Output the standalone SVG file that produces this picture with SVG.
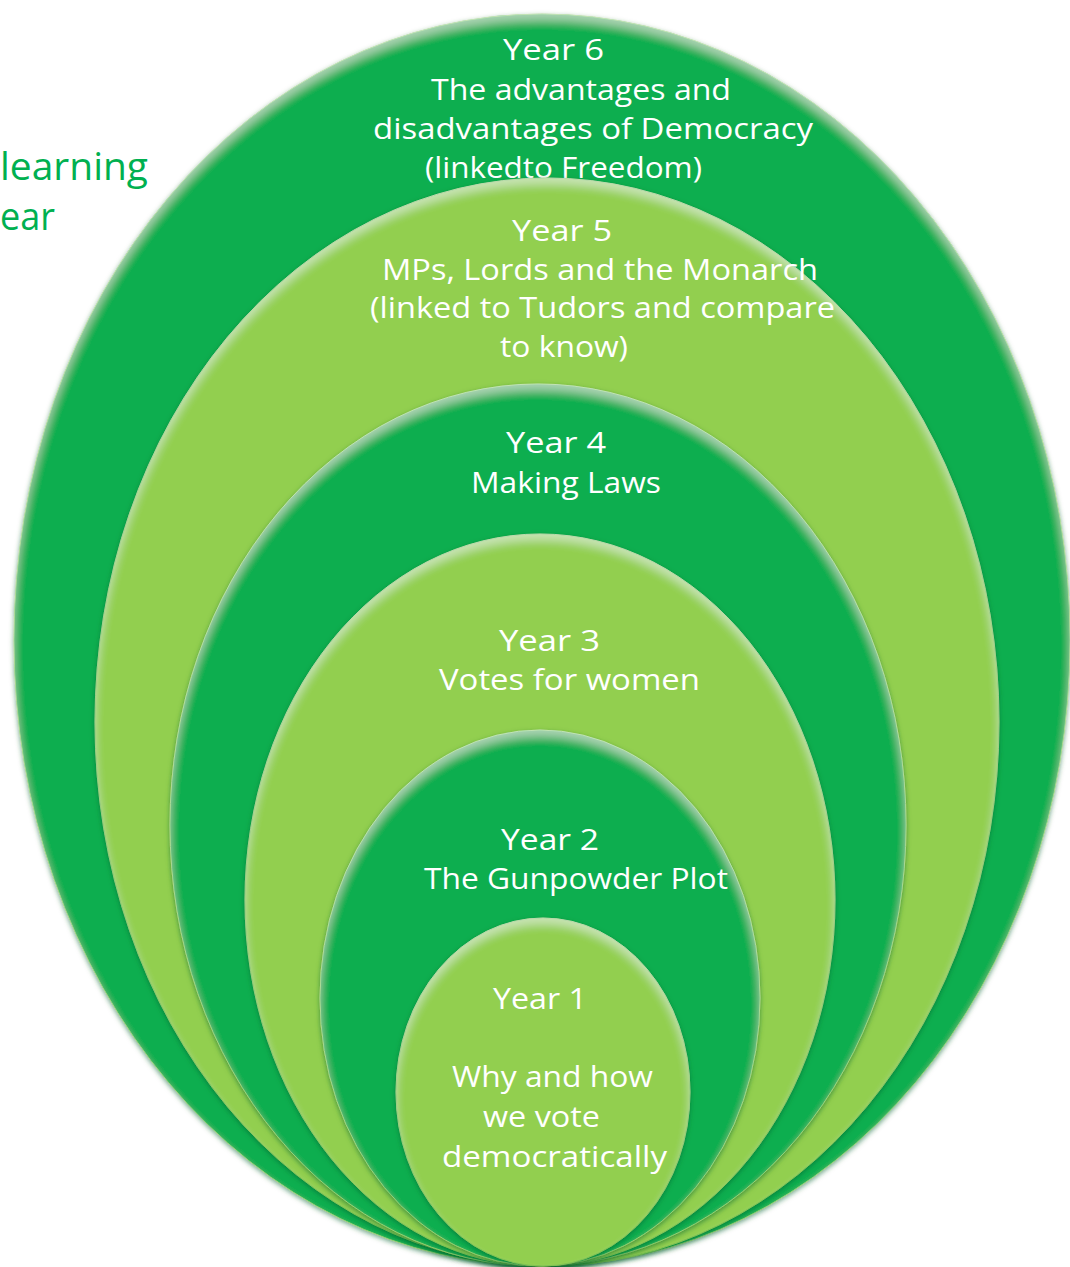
<svg xmlns="http://www.w3.org/2000/svg" width="1070" height="1267" viewBox="0 0 1070 1267">
<defs>
<filter id="bevel" x="-5%" y="-5%" width="110%" height="110%">
<feGaussianBlur in="SourceAlpha" stdDeviation="2.5" result="sb"/>
<feOffset in="sb" dx="0" dy="2" result="so"/>
<feFlood flood-color="#05602b" flood-opacity="0.55"/>
<feComposite in2="so" operator="in" result="shadow"/>
<feGaussianBlur in="SourceAlpha" stdDeviation="5" result="b2"/>
<feOffset in="b2" dx="0" dy="7" result="o2"/>
<feComposite in="SourceAlpha" in2="o2" operator="out" result="rim"/>
<feFlood flood-color="#ffffff" flood-opacity="0.4"/>
<feComposite in2="rim" operator="in" result="hl"/>
<feMerge><feMergeNode in="shadow"/><feMergeNode in="SourceGraphic"/><feMergeNode in="hl"/></feMerge>
</filter>
</defs>
<style>
.dark{fill:#07AE4F;stroke:#8fd06a;stroke-width:1;filter:url(#bevel)}
.light{fill:#92CF50;stroke:#7cc24a;stroke-width:1;filter:url(#bevel)}
.lbl{fill:#ffffff;font-family:"Comic Sans MS","Open Sans","DejaVu Sans",sans-serif;font-size:30px}
.side{fill:#00B050;font-family:"Comic Sans MS","Open Sans","DejaVu Sans",sans-serif;font-size:38px}
</style>
<rect width="1070" height="1267" fill="#ffffff"/>
<g id="title">
<text class="side" x="0" y="180" textLength="148" lengthAdjust="spacingAndGlyphs">learning</text>
<text class="side" x="0" y="230" textLength="55" lengthAdjust="spacingAndGlyphs">ear</text>
</g>
<g id="year6">
<ellipse class="dark" cx="542" cy="640" rx="528" ry="626"/>
<text class="lbl" x="503" y="60" textLength="101" lengthAdjust="spacingAndGlyphs">Year 6</text>
<text class="lbl" x="431" y="100" textLength="300" lengthAdjust="spacingAndGlyphs">The advantages and</text>
<text class="lbl" x="373" y="139" textLength="440" lengthAdjust="spacingAndGlyphs">disadvantages of Democracy</text>
<text class="lbl" x="425" y="178" textLength="277" lengthAdjust="spacingAndGlyphs">(linkedto Freedom)</text>
</g>
<g id="year5">
<ellipse class="light" cx="547" cy="722" rx="452" ry="544"/>
<text class="lbl" x="512" y="241" textLength="100" lengthAdjust="spacingAndGlyphs">Year 5</text>
<text class="lbl" x="382" y="280" textLength="436" lengthAdjust="spacingAndGlyphs">MPs, Lords and the Monarch</text>
<text class="lbl" x="370" y="318" textLength="465" lengthAdjust="spacingAndGlyphs">(linked to Tudors and compare</text>
<text class="lbl" x="500" y="357" textLength="128" lengthAdjust="spacingAndGlyphs">to know)</text>
</g>
<g id="year4">
<ellipse class="dark" cx="538" cy="825" rx="368" ry="441"/>
<text class="lbl" x="506" y="453" textLength="100" lengthAdjust="spacingAndGlyphs">Year 4</text>
<text class="lbl" x="471" y="493" textLength="190" lengthAdjust="spacingAndGlyphs">Making Laws</text>
</g>
<g id="year3">
<ellipse class="light" cx="540" cy="900" rx="295" ry="366"/>
<text class="lbl" x="499" y="651" textLength="101" lengthAdjust="spacingAndGlyphs">Year 3</text>
<text class="lbl" x="439" y="690" textLength="261" lengthAdjust="spacingAndGlyphs">Votes for women</text>
</g>
<g id="year2">
<ellipse class="dark" cx="540" cy="998" rx="220" ry="268"/>
<text class="lbl" x="501" y="850" textLength="98" lengthAdjust="spacingAndGlyphs">Year 2</text>
<text class="lbl" x="424" y="889" textLength="304" lengthAdjust="spacingAndGlyphs">The Gunpowder Plot</text>
</g>
<g id="year1">
<ellipse class="light" cx="543" cy="1092" rx="147" ry="174"/>
<text class="lbl" x="493" y="1009" textLength="94" lengthAdjust="spacingAndGlyphs">Year 1</text>
<text class="lbl" x="452" y="1087" textLength="201" lengthAdjust="spacingAndGlyphs">Why and how</text>
<text class="lbl" x="483" y="1127" textLength="117" lengthAdjust="spacingAndGlyphs">we vote</text>
<text class="lbl" x="442" y="1167" textLength="225" lengthAdjust="spacingAndGlyphs">democratically</text>
</g>
</svg>
